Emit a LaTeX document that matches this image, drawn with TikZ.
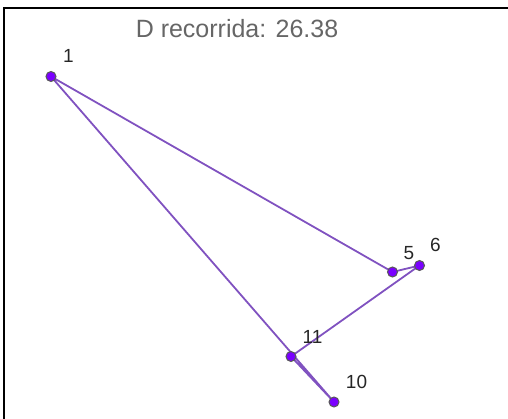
\documentclass[tikz,border=0pt]{standalone}
\usepackage{fontspec}
\setmainfont{Liberation Sans}
\definecolor{tourline}{RGB}{128,82,192}
\definecolor{dotfill}{RGB}{122,0,255}
\pgfdeclarelayer{bg}
\pgfsetlayers{bg,main}

\begin{document}
\begin{tikzpicture}[x=1pt, y=-1pt,
  dot/.style={circle, draw=black!65, fill=dotfill, line width=1pt, inner sep=0pt, minimum size=10pt},
  num/.style={font=\fontsize{19}{19}\selectfont, text=black!85, inner sep=0pt},
  tour/.style={tourline, line width=1.8pt}]
  \useasboundingbox (0,0) rectangle (508,419);
  \draw[line width=2.5pt] (4,419) -- (4,8) -- (508,8);
  \node[font=\fontsize{25}{25}\selectfont, text=black!60, inner sep=0pt] (title) at (237,28.5) {D recorrida: 26.38};
  % visited points
  \node[dot] (p1) at (51,76.5) {};
  \node[dot] (p5) at (392.5,272) {};
  \node[dot] (p6) at (419.5,265.5) {};
  \node[dot] (p11) at (291,356.5) {};
  \node[dot] (p10) at (334,402) {};
  \node[num] (l1) at (68.5,56) {1};
  \node[num] (l5) at (409,253) {5};
  \node[num] (l6) at (435.5,245) {6};
  \node[num] (l11) at (312.5,337) {11};
  \node[num] (l10) at (356.5,381.5) {10};
  % route
  \begin{pgfonlayer}{bg}
    \draw[tour] (p1.center) -- (p5.center) -- (p6.center) -- (p11.center) -- (p10.center) -- (p1.center);
  \end{pgfonlayer}
\end{tikzpicture}
\end{document}
